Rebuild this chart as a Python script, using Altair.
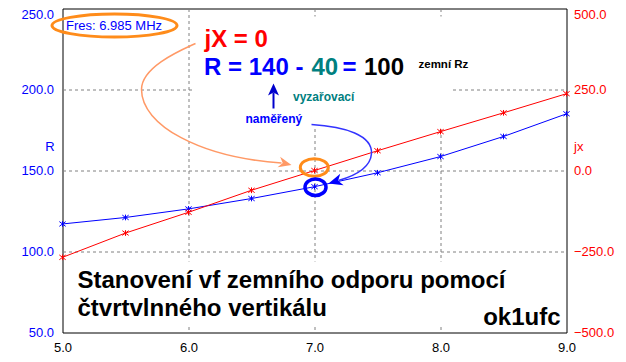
import altair as alt
import pandas as pd

# ---------------- data ----------------
freq = [5.0, 5.5, 6.0, 6.5, 7.0, 7.5, 8.0, 8.5, 9.0]
r_vals = [117.0, 121.0, 126.3, 132.7, 140.0, 148.6, 158.6, 171.0, 185.0]
jx_vals = [-268.0, -193.0, -129.0, -61.0, 0.0, 61.0, 120.0, 178.0, 237.0]

x_ticks = [5.0, 6.0, 7.0, 8.0, 9.0]
r_ticks = [50.0, 100.0, 150.0, 200.0, 250.0]
jx_ticks = [-500.0, -250.0, 0.0, 250.0, 500.0]

df = pd.DataFrame({"f": freq, "R": r_vals, "jX": jx_vals})
one = pd.DataFrame({"a": [0]})

FONT = "Liberation Sans"
BLUE = "#0000ff"
RED = "#ff0000"
TEAL = "#008080"
ORANGE = "#ff8c1a"
OX, OY = 62, 8  # page pixel -> plot pixel offset

MARK = "M-1,-0.75L1,0.75M-1,0.75L1,-0.75M0,-0.9L0,0.9"

# ---------------- axes / scales ----------------
x_axis = alt.Axis(values=x_ticks, format=".1f", title=None, ticks=False, domain=False,
                  labelPadding=8.5, labelFlush=False, labelColor="black", labelFontSize=13,
                  labelFont=FONT, grid=True, gridDash=[3, 3], gridColor="#808080",
                  gridOpacity={"condition": {"test": "datum.value == 5 || datum.value == 9", "value": 0}, "value": 1})
x_enc = alt.X("f:Q", scale=alt.Scale(domain=[5, 9], nice=False, zero=False), axis=x_axis)

left_axis = alt.Axis(orient="left", values=r_ticks, format=".1f", title="R", titleAngle=0,
                     titleX=-13, titleY=138, titleAlign="center", titleBaseline="middle",
                     titleColor=BLUE, titleFont=FONT, titleFontSize=13, titleFontWeight="normal",
                     ticks=False, domain=False, labelPadding=9, labelFlush=False,
                     labelColor=BLUE, labelFont=FONT, labelFontSize=13,
                     labelBaseline={"condition": {"test": "datum.value == 250", "value": "top"}, "value": "middle"},
                     grid=True, gridDash=[3, 3], gridColor="#808080",
                     gridOpacity={"condition": {"test": "datum.value == 50 || datum.value == 250", "value": 0}, "value": 1})
right_axis = alt.Axis(orient="right", values=jx_ticks, format=".1f", title="jx", titleAngle=0,
                      titleX=7, titleY=138, titleAlign="left", titleBaseline="middle",
                      titleColor=RED, titleFont=FONT, titleFontSize=13, titleFontWeight="normal",
                      ticks=False, domain=False, labelPadding=7, labelFlush=False,
                      labelColor=RED, labelFont=FONT, labelFontSize=13,
                      labelBaseline={"condition": {"test": "datum.value == 500", "value": "top"}, "value": "middle"},
                      grid=False)

r_y = alt.Y("R:Q", scale=alt.Scale(domain=[50, 250], nice=False, zero=False), axis=left_axis)
jx_y = alt.Y("jX:Q", scale=alt.Scale(domain=[-500, 500], nice=False, zero=False), axis=right_axis)

r_layer = alt.layer(
    alt.Chart(df).mark_line(color=BLUE, strokeWidth=1).encode(x=x_enc, y=r_y),
    alt.Chart(df).mark_point(shape=MARK, size=40, filled=False, color=BLUE, opacity=1,
                             strokeWidth=1).encode(x=x_enc, y=r_y),
)
jx_layer = alt.layer(
    alt.Chart(df).mark_line(color=RED, strokeWidth=1).encode(x=x_enc, y=jx_y),
    alt.Chart(df).mark_point(shape=MARK, size=40, filled=False, color=RED, opacity=1,
                             strokeWidth=1).encode(x=x_enc, y=jx_y),
)


# ---------------- annotation helpers ----------------
def pt(x, y):
    return f"{x - OX:.2f},{y - OY:.2f}"


def ellipse(cx, cy, rx, ry):
    k = 0.5523
    return (f"M{pt(cx - rx, cy)}"
            f"C{pt(cx - rx, cy - k * ry)} {pt(cx - k * rx, cy - ry)} {pt(cx, cy - ry)}"
            f"C{pt(cx + k * rx, cy - ry)} {pt(cx + rx, cy - k * ry)} {pt(cx + rx, cy)}"
            f"C{pt(cx + rx, cy + k * ry)} {pt(cx + k * rx, cy + ry)} {pt(cx, cy + ry)}"
            f"C{pt(cx - k * rx, cy + ry)} {pt(cx - rx, cy + k * ry)} {pt(cx - rx, cy)}Z")


def arrowhead(tx, ty, dx, dy, L, W, n):
    m = (dx * dx + dy * dy) ** 0.5
    dx, dy = dx / m, dy / m
    px, py = -dy, dx
    bx, by = tx - L * dx, ty - L * dy
    p1 = (bx + W * px, by + W * py)
    p2 = (tx - (L - n) * dx, ty - (L - n) * dy)
    p3 = (bx - W * px, by - W * py)
    return f"M{pt(tx, ty)}L{pt(*p1)}L{pt(*p2)}L{pt(*p3)}Z"


def stroke_shape(path, color, sw):
    return alt.Chart(one).mark_point(shape=path, size=4, filled=False, color=color,
                                     strokeWidth=sw, opacity=1).encode(
        x=alt.value(0), y=alt.value(0))


def fill_shape(path, color):
    return alt.Chart(one).mark_point(shape=path, size=4, filled=True, color=color,
                                     strokeWidth=0, opacity=1).encode(
        x=alt.value(0), y=alt.value(0))


def txt(s, x, y, color, size, bold=True, align="left"):
    return alt.Chart(one).mark_text(text=s, align=align, baseline="alphabetic", font=FONT,
                                    fontSize=size, fontWeight="bold" if bold else "normal",
                                    color=color).encode(x=alt.value(x - OX), y=alt.value(y - OY))


def white_box(x1, y1, x2, y2):
    return alt.Chart(one).mark_rect(color="white", opacity=1).encode(
        x=alt.value(x1 - OX), x2=alt.value(x2 - OX), y=alt.value(y1 - OY), y2=alt.value(y2 - OY))


boxes = [white_box(194, 16, 451, 126), white_box(70, 261, 562, 326)]

orange_curve = (f"M{pt(195, 43)}C{pt(182, 49)} {pt(141, 66)} {pt(141, 89)}"
                f"C{pt(141, 125)} {pt(200, 157)} {pt(281, 162.5)}")
blue_curve = (f"M{pt(311, 124)}C{pt(345, 126)} {pt(372, 135)} {pt(371, 153)}"
              f"C{pt(370, 168)} {pt(352, 176)} {pt(338, 180)}")
up_line = f"M{pt(273, 108)}L{pt(273, 92)}"

shapes = [
    stroke_shape(ellipse(114, 25, 62.5, 11.5), ORANGE, 3),
    stroke_shape(ellipse(313.8, 167, 14, 8.8), ORANGE, 3),
    stroke_shape(ellipse(315, 186.7, 10.5, 8.2), BLUE, 3.5),
    stroke_shape(orange_curve, "#ff9966", 1.5),
    fill_shape(arrowhead(291, 164.5, 0.97, 0.23, 13, 5.5, 4), "#ff9966"),
    stroke_shape(blue_curve, "#3333ff", 1.5),
    fill_shape(arrowhead(328, 183, -0.96, 0.28, 14, 6, 4), BLUE),
    stroke_shape(up_line, "#0000cc", 2),
    fill_shape(arrowhead(273, 83, 0, -1, 12, 5.5, 3), "#0000cc"),
]

texts = [
    txt("Fres: 6.985 MHz", 65.5, 29, BLUE, 13, bold=False),
    txt("jX = 0", 204, 46, RED, 24),
    txt("R = 140 -", 203.5, 74, BLUE, 24),
    txt("40", 311, 74, TEAL, 24),
    txt("=", 342, 74, BLUE, 24),
    txt("100", 363.5, 74, "black", 24),
    txt("zemní Rz", 418, 67, "black", 11.5),
    txt("vyzařovací", 292.5, 100, TEAL, 12),
    txt("naměřený", 245, 122.5, BLUE, 12),
    txt("Stanovení vf zemního odporu pomocí", 77, 287, "black", 24),
    txt("čtvrtvlnného vertikálu", 77, 315, "black", 24),
    txt("ok1ufc", 560, 324, "black", 24, align="right"),
]

chart = alt.layer(*boxes, r_layer, jx_layer, *shapes, *texts).resolve_scale(
    y="independent"
).properties(
    width=504, height=324,
    padding={"left": 54.5, "top": 0.5, "right": 51.5, "bottom": 21.5},
    autosize=alt.AutoSizeParams(type="none"),
    background="white",
).configure_view(stroke="black", strokeWidth=1)

chart.save("out.html", embed_options={"renderer": "svg", "actions": False})
